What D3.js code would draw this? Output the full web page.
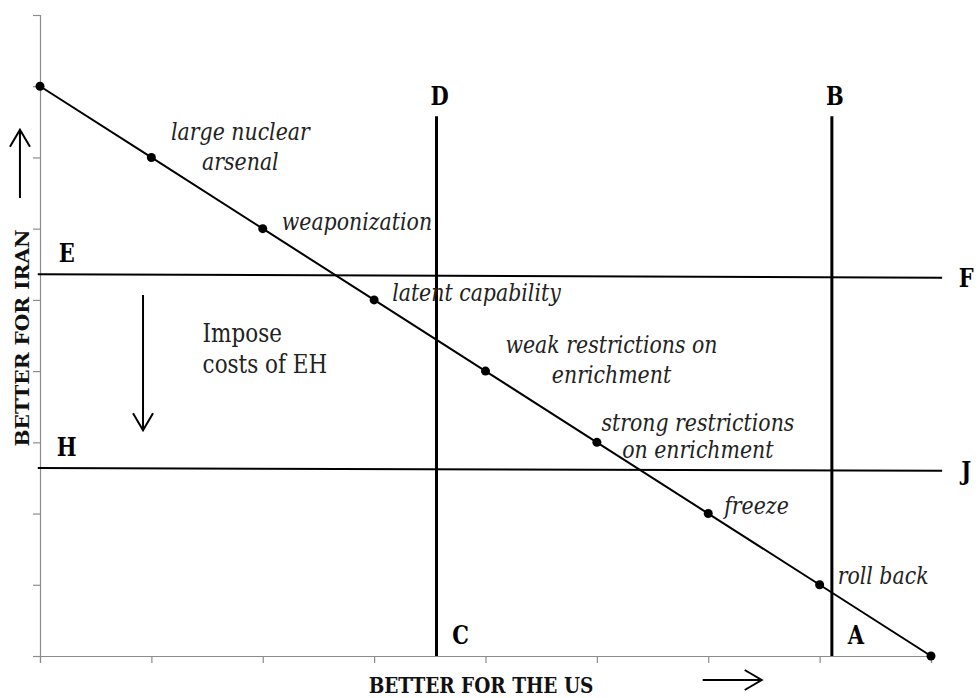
<!DOCTYPE html>
<html>
<meta charset="UTF-8">
<style>
body { margin: 0; background: #fff; }
svg { display: block; }
.axis path, .axis line { stroke: #8c8c8c; stroke-width: 1.2px; }
.path-line { fill: none; stroke: #000; stroke-width: 2px; }
.dot { fill: #000; }
.vline { stroke: #000; stroke-width: 3px; }
.hline { stroke: #000; stroke-width: 2px; }
.arrow { fill: none; stroke: #000; stroke-width: 2px; }
.step { font-family: "DejaVu Serif", serif; font-style: italic; font-size: 20.5px; fill: #222; }
.letter { font-family: "DejaVu Serif", serif; font-weight: bold; font-size: 21px; fill: #000; text-anchor: middle; }
.title { font-family: "DejaVu Serif", serif; font-weight: bold; font-size: 18.5px; fill: #111; text-anchor: middle; }
.note { font-family: "DejaVu Serif", serif; font-size: 21.5px; fill: #222; }
</style>
<body>
<svg width="979" height="698"></svg>
<script src="https://d3js.org/d3.v7.min.js"></script>
<script>
//	escalation ladder: positions along the US axis and the Iran axis
var stepX = [0, 1, 2, 3, 4, 5, 6, 7, 8];
var stepY = [8, 7, 6, 5, 4, 3, 2, 1, 0];
var stepNames = [
	[],
	["large nuclear", "arsenal"],
	["weaponization"],
	["latent capability"],
	["weak restrictions on", "enrichment"],
	["strong restrictions", "on enrichment"],
	["freeze"],
	["roll back"],
	[]
];

//	reservation lines (data units)
var vLines = [
	{ top: "D", bottom: "C", x: 3.56, y1: 0, y2: 7.58 },
	{ top: "B", bottom: "A", x: 7.11, y1: 0, y2: 7.58 }
];
var hLines = [
	{ left: "E", right: "F", x1: -0.02, x2: 8.1, y1: 5.36, y2: 5.31 },
	{ left: "H", right: "J", x1: -0.02, x2: 8.1, y1: 2.64, y2: 2.60 }
];

//	arrows (data units)
var arrows = [
	{ x1: -0.18, y1: 6.43, x2: -0.18, y2: 7.39 },
	{ x1: 0.925, y1: 5.07, x2: 0.925, y2: 3.17 },
	{ x1: 5.95, y1: -0.337, x2: 6.48, y2: -0.337 }
];

var noteLines = ["Impose", "costs of EH"];
var xTitle = "BETTER FOR THE US";
var yTitle = "BETTER FOR IRAN";

//	layout: label offsets in pixels
var stepLabelPos = [
	null,
	{ dx: 89, anchor: "middle", dy: [-17, 13] },
	{ dx: 19, anchor: "start", dy: [1] },
	{ dx: 18, anchor: "start", dy: [1] },
	{ dx: 126, anchor: "middle", dy: [-18, 12] },
	{ dx: 101, anchor: "middle", dy: [-11, 16] },
	{ dx: 16, anchor: "start", dy: [0] },
	{ dx: 18, anchor: "start", dy: [-1] },
	null
];

//	the source picture is stretched vertically, so text is too
var S = 1.2;
function place(px, py) { return "translate(" + px + "," + py + ") scale(1," + S + ")"; }

var svg = d3.select("svg");

var x = d3.scaleLinear().domain([0, 8]).range([40, 931]);
var y = d3.scaleLinear().domain([0, 9]).range([656, 15]);

//	axes with blank tick labels
svg.append("g")
	.attr("class", "axis")
	.attr("transform", "translate(0," + y(0) + ")")
	.call(d3.axisBottom(x).tickValues(d3.range(0, 9)).tickSize(7).tickFormat(""));

svg.append("g")
	.attr("class", "axis")
	.attr("transform", "translate(" + x(0) + ",0)")
	.call(d3.axisLeft(y).tickValues(d3.range(0, 10)).tickSize(7).tickFormat(""));

//	horizontal lines
var hl = svg.append("g").selectAll("g").data(hLines).enter().append("g");
hl.append("line")
	.attr("class", "hline")
	.attr("x1", function(d) { return x(d.x1); })
	.attr("y1", function(d) { return y(d.y1); })
	.attr("x2", function(d) { return x(d.x2); })
	.attr("y2", function(d) { return y(d.y2); });
hl.append("text")
	.attr("class", "letter")
	.attr("transform", function(d) { return place(x(d.x1) + 29, y(d.y1) - 12); })
	.text(function(d) { return d.left; });
hl.append("text")
	.attr("class", "letter")
	.attr("transform", function(d) { return place(x(d.x2) + 24, y(d.y2) + 9); })
	.text(function(d) { return d.right; });

//	vertical lines
var vl = svg.append("g").selectAll("g").data(vLines).enter().append("g");
vl.append("line")
	.attr("class", "vline")
	.attr("x1", function(d) { return x(d.x); })
	.attr("y1", function(d) { return y(d.y1); })
	.attr("x2", function(d) { return x(d.x); })
	.attr("y2", function(d) { return y(d.y2); });
vl.append("text")
	.attr("class", "letter")
	.attr("transform", function(d) { return place(x(d.x) + 3, y(d.y2) - 11); })
	.text(function(d) { return d.top; });
vl.append("text")
	.attr("class", "letter")
	.attr("transform", function(d) { return place(x(d.x) + 24, y(d.y1) - 12); })
	.text(function(d) { return d.bottom; });

//	the ladder line and its points
var pts = stepX.map(function(v, i) { return { x: v, y: stepY[i], names: stepNames[i], pos: stepLabelPos[i] }; });

svg.append("path")
	.datum(pts)
	.attr("class", "path-line")
	.attr("d", d3.line().x(function(d) { return x(d.x); }).y(function(d) { return y(d.y); }));

svg.append("g").selectAll("circle").data(pts).enter().append("circle")
	.attr("class", "dot")
	.attr("r", 4.5)
	.attr("cx", function(d) { return x(d.x); })
	.attr("cy", function(d) { return y(d.y); });

var lab = svg.append("g").selectAll("text").data(pts.filter(function(d) { return d.pos; })).enter().append("text")
	.attr("class", "step")
	.attr("text-anchor", function(d) { return d.pos.anchor; })
	.attr("transform", function(d) { return place(x(d.x) + d.pos.dx, y(d.y)); });
lab.selectAll("tspan").data(function(d) {
		return d.names.map(function(n, i) { return { text: n, dy: d.pos.dy[i] }; });
	}).enter().append("tspan")
	.attr("x", 0)
	.attr("y", function(t) { return t.dy / S; })
	.text(function(t) { return t.text; });

//	arrows with open heads
svg.append("g").selectAll("path").data(arrows).enter().append("path")
	.attr("class", "arrow")
	.attr("d", function(d) {
		var ax = x(d.x1), ay = y(d.y1), bx = x(d.x2), by = y(d.y2);
		var ang = Math.atan2(by - ay, bx - ax), len = 17, w = 10;
		var cx = bx - len * Math.cos(ang), cy = by - len * Math.sin(ang);
		var px = -Math.sin(ang) * w, py = Math.cos(ang) * w;
		return "M" + ax + "," + ay + "L" + bx + "," + by +
			"M" + (cx + px) + "," + (cy + py) + "L" + bx + "," + by + "L" + (cx - px) + "," + (cy - py);
	});

//	note text
svg.append("text")
	.attr("class", "note")
	.attr("transform", place(x(1.46), y(4.41)))
	.selectAll("tspan").data(noteLines).enter().append("tspan")
	.attr("x", 0)
	.attr("y", function(d, i) { return i === 0 ? 0 : (y(3.97) - y(4.41)) / S; })
	.text(function(d) { return d; });

//	axis titles
svg.append("text")
	.attr("class", "title")
	.attr("transform", place(481, 693))
	.text(xTitle);

//	rotated title: stretch along its length to span about 217px like the source
var yt = svg.append("text")
	.attr("class", "title")
	.text(yTitle);
var ytLen = yt.node().getComputedTextLength();
yt.attr("transform", "translate(29,338) rotate(-90) scale(" + (217 / ytLen) + ",1)");
</script>
</body>
</html>
